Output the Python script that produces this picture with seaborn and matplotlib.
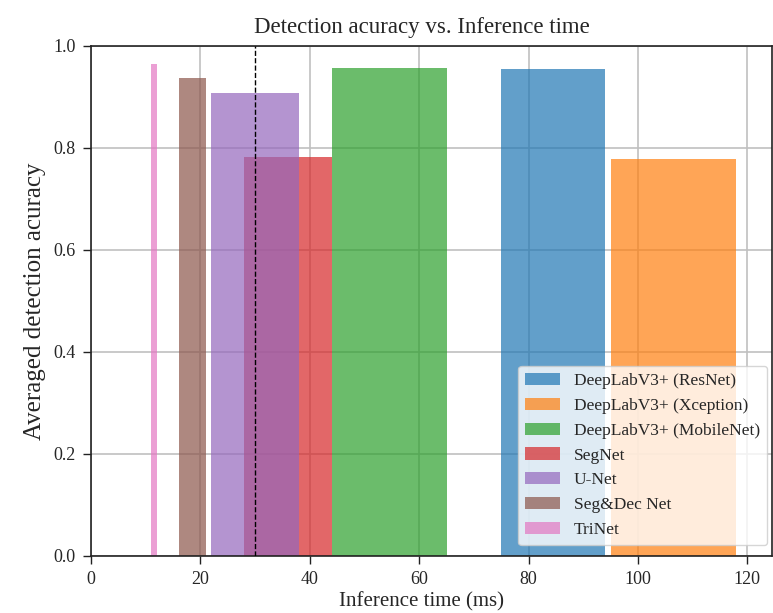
import matplotlib
matplotlib.use("Agg")
import matplotlib.pyplot as plt
import seaborn as sns
import pandas as pd

# Models, their inference-time ranges (ms) and averaged detection accuracy
models = [
    "DeepLabV3+ (ResNet)",
    "DeepLabV3+ (Xception)",
    "DeepLabV3+ (MobileNet)",
    "SegNet",
    "U-Net",
    "Seg&Dec Net",
    "TriNet",
]
time_start = [75, 95, 44, 28, 22, 16, 11]
time_end = [94, 118, 65, 44, 38, 21, 12]
accuracy = [0.954, 0.779, 0.956, 0.782, 0.908, 0.937, 0.965]
time_budget = 30

df = pd.DataFrame({"model": models, "start": time_start,
                   "end": time_end, "accuracy": accuracy})
df["width"] = df["end"] - df["start"]

sns.set_style("ticks", {"axes.grid": True, "grid.color": "#c0c0c0",
                        "axes.edgecolor": "#222222"})
plt.rcParams["font.family"] = ["Liberation Serif", "DejaVu Serif"]

palette = sns.color_palette("tab10", len(models))

fig = plt.figure(figsize=(7.73, 6.13), dpi=100)
ax = fig.add_axes([91 / 773, 1 - 556 / 613, (772 - 91) / 773, (556 - 46) / 613])

for (_, row), color in zip(df.iterrows(), palette):
    ax.bar(row["start"], row["accuracy"], width=row["width"], align="edge",
           color=color, alpha=0.7, linewidth=0, label=row["model"], zorder=2)

ax.axvline(time_budget, color="black", linestyle="--", linewidth=1.0, zorder=3)

ax.set_xlim(0, 124.5)
ax.set_ylim(0, 1.0)
ax.set_xticks([0, 20, 40, 60, 80, 100, 120])
ax.set_yticks([0.0, 0.2, 0.4, 0.6, 0.8, 1.0])
ax.tick_params(axis="both", labelsize=13, length=6, width=1, color="#222222",
               direction="out", pad=5)
ax.grid(True, color="#c0c0c0", linewidth=1.2, zorder=0)
ax.set_axisbelow(True)
for side in ax.spines.values():
    side.set_linewidth(1.2)

ax.set_title("Detection acuracy vs. Inference time", fontsize=16.5,
             x=0.4853, pad=9)
ax.set_xlabel("Inference time (ms)", fontsize=15)
ax.set_ylabel("Averaged detection acuracy", fontsize=18)
ax.xaxis.set_label_coords(0.485, -0.07)
ax.yaxis.set_label_coords(-0.066, 0.5)

ax.legend(loc="lower right", bbox_to_anchor=(0.9927, 0.0216),
          borderaxespad=0, fontsize=12.5, frameon=True, framealpha=0.8,
          edgecolor="#cccccc", fancybox=True, handlelength=2.0)

fig.savefig("out.png", dpi=100)
